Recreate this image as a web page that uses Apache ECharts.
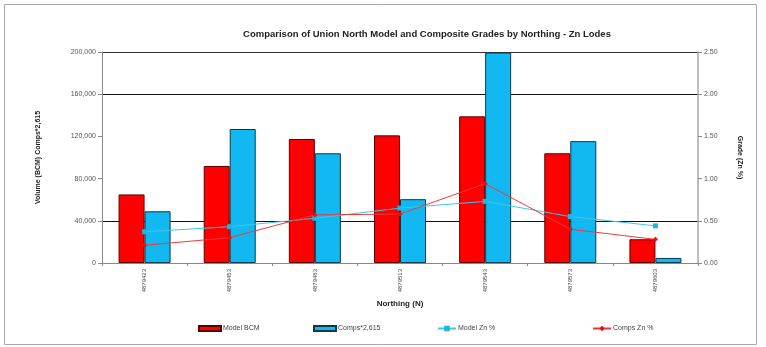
<!DOCTYPE html>
<html><head><meta charset="utf-8">
<script src="https://cdn.jsdelivr.net/npm/echarts@6/dist/echarts.min.js"></script>
<style>html,body{margin:0;padding:0;background:#fff}#c{width:766px;height:347px}</style>
</head><body><div id="c"></div>
<script>
const categories = ['4879423','4879453','4879483','4879513','4879543','4879573','4879603'];
const modelBCM = [65000, 92000, 117500, 121000, 139000, 104000, 22500];
const compsVol = [49000, 127000, 104000, 60500, 199500, 115500, 4800];
const modelZn = [0.37, 0.43, 0.53, 0.65, 0.73, 0.55, 0.44];
const compsZn = [0.21, 0.30, 0.57, 0.58, 0.94, 0.40, 0.28];
const leftTicks = [0, 40000, 80000, 120000, 160000, 200000];
const rightTicks = [0, 0.5, 1.0, 1.5, 2.0, 2.5];

const font = 'Liberation Sans';
const chart = echarts.init(document.getElementById('c'), null, {renderer:'canvas'});
const tr = 'rgba(0,0,0,0)';
function leg(name, left, isBar){
  const o = {
    data:[name], left:left, top:325, itemWidth: isBar?22:18, itemHeight: isBar?5:7,
    textStyle:{fontFamily:font, fontSize:7, color:'#444', padding:[0,0,0,-3]}, padding:0, selectedMode:false
  };
  if (isBar) o.icon = 'rect';
  return o;
}
chart.setOption({
  animation:false,
  graphic:[{type:'rect', shape:{x:4.5,y:4.5,width:752,height:340}, style:{fill:'none', stroke:'#aaa', lineWidth:1}, silent:true}],
  title:{text:'Comparison of Union North Model and Composite Grades by Northing - Zn Lodes', left:422, textAlign:'center', top:24,
    textStyle:{fontFamily:font, fontSize:9.5, fontWeight:'bold', color:'#222'}},
  legend:[leg('Model BCM',198,true), leg('Comps*2,615',313,true), leg('Model Zn %',437,false), leg('Comps Zn %',592,false)],
  grid:{left:102, right:68, top:52, bottom:84},
  xAxis:{type:'category', data:categories, name:'Northing (N)', nameLocation:'middle', nameGap:34,
    nameTextStyle:{fontFamily:font, fontSize:8, fontWeight:'bold', color:'#222'},
    axisLine:{lineStyle:{color:'#888'}}, axisTick:{show:true, length:3, lineStyle:{color:'#888'}},
    axisLabel:{rotate:90, fontFamily:font, fontSize:6, color:'#444', margin:6}},
  yAxis:[
    {type:'value', min:0, max:200000, interval:40000, position:'left',
     name:'Volume (BCM) Comps*2,615', nameLocation:'middle', nameGap:60, nameRotate:90,
     nameTextStyle:{fontFamily:font, fontSize:7, fontWeight:'bold', color:'#222'},
     axisLine:{show:true, lineStyle:{color:'#888'}}, axisTick:{show:true, length:4, lineStyle:{color:'#888'}},
     axisLabel:{fontFamily:font, fontSize:7, color:'#555', margin:6, formatter:v=>v.toLocaleString('en-US')},
     splitLine:{show:true, lineStyle:{color:[tr,'#111',tr,tr,'#111','#333'], width:1}}},
    {type:'value', min:0, max:2.5, interval:0.5, position:'right',
     name:'Grade (Zn %)', nameLocation:'middle', nameGap:38, nameRotate:-90,
     nameTextStyle:{fontFamily:font, fontSize:7, fontWeight:'bold', color:'#222'},
     axisLine:{show:true, lineStyle:{color:'#aaa', width:1.5}}, axisTick:{show:true, length:4, lineStyle:{color:'#888'}},
     axisLabel:{fontFamily:font, fontSize:7, color:'#555', margin:6, formatter:v=>v.toFixed(2)},
     splitLine:{show:false}}
  ],
  series:[
    {name:'Model BCM', type:'bar', data:modelBCM, barWidth:26, barGap:'0%', yAxisIndex:0,
     itemStyle:{color:'#FF0000', borderColor:'#5a0000', borderWidth:1}},
    {name:'Comps*2,615', type:'bar', data:compsVol, barWidth:26, barGap:'0%', yAxisIndex:0,
     itemStyle:{color:'#12B8F2', borderColor:'#0a3a4a', borderWidth:1}},
    {name:'Model Zn %', type:'line', data:modelZn, yAxisIndex:1, symbol:'rect', symbolSize:5,
     lineStyle:{color:'#3CC8EA', width:1}, itemStyle:{color:'#1FB6E6'}},
    {name:'Comps Zn %', type:'line', data:compsZn, yAxisIndex:1, symbol:'diamond', symbolSize:5,
     lineStyle:{color:'#F03838', width:1}, itemStyle:{color:'#E81010'}}
  ]
});
</script></body></html>
